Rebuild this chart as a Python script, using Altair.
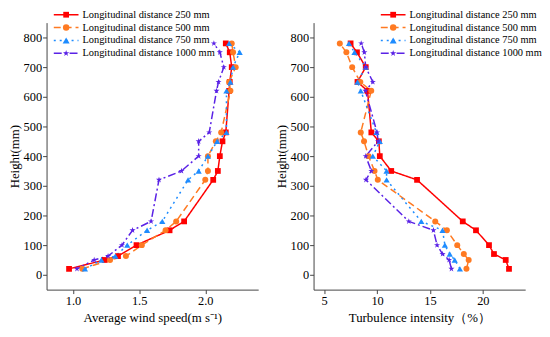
import altair as alt
import pandas as pd

names = ["Longitudinal distance 250 mm", "Longitudinal distance 500 mm",
         "Longitudinal distance 750 mm", "Longitudinal distance 1000 mm"]
colors = ["#FF0000", "#FF7A22", "#1E8CFF", "#5A22E6"]
dashes = [[1, 0], [7, 4], [2, 4], [8, 3, 2, 3]]
STAR = "M0,-1L0.2245,-0.309L0.951,-0.309L0.363,0.118L0.588,0.809L0,0.382L-0.588,0.809L-0.363,0.118L-0.951,-0.309L-0.2245,-0.309Z"
shapes = ["square", "circle", "triangle-up", STAR]
sizes = [34, 42, 50, 45]

heights_left = [20, 50, 63, 100, 150, 180, 320, 350, 400, 450, 480, 620, 650, 700, 750, 780]
heights_right = [20, 50, 70, 100, 150, 180, 320, 350, 400, 450, 480, 620, 650, 700, 750, 780]

speed_250 = [0.97, 1.24, 1.34, 1.48, 1.73, 1.84, 2.06, 2.095, 2.11, 2.13, 2.155, 2.18, 2.185, 2.20, 2.185, 2.155]
speed_500 = [1.07, 1.28, 1.40, 1.52, 1.70, 1.78, 2.00, 2.02, 2.02, 2.08, 2.12, 2.19, 2.18, 2.23, 2.21, 2.20]
speed_750 = [1.09, 1.215, 1.32, 1.41, 1.56, 1.675, 1.87, 1.95, 2.02, 2.09, 2.16, 2.16, 2.19, 2.21, 2.26, 2.18]
speed_1000 = [1.03, 1.16, 1.265, 1.37, 1.45, 1.59, 1.65, 1.82, 1.95, 1.95, 2.03, 2.085, 2.10, 2.14, 2.11, 2.065]

ti_250 = [22.47, 22.16, 21.05, 20.58, 19.35, 18.1, 13.78, 11.34, 10.26, 10.17, 9.46, 9.1, 8.15, 8.93, 8.1, 7.5]
ti_500 = [18.45, 18.66, 18.2, 17.58, 16.6, 15.5, 10.07, 9.76, 9.2, 8.77, 8.46, 9.45, 8.42, 7.65, 7.1, 6.48]
ti_750 = [17.83, 17.34, 16.87, 16.41, 16.19, 14.18, 10.9, 10.9, 9.6, 10.26, 9.94, 8.46, 8.15, 8.93, 7.87, 7.35]
ti_1000 = [17.03, 16.81, 16.19, 15.67, 15.33, 13.0, 8.95, 9.46, 8.93, 10.1, 10.0, 8.9, 9.6, 8.93, 8.8, 8.5]

FONT = "Liberation Serif"


def make_df(heights, series_values):
    rows = []
    for name, vals in zip(names, series_values):
        for i, (h, v) in enumerate(zip(heights, vals)):
            rows.append({"series": name, "idx": i, "h": h, "v": v})
    return pd.DataFrame(rows)


def panel(df, xdomain, xticks, xfmt, xtitle, lx0, w):
    base = alt.Chart(df)
    x = alt.X("v:Q", scale=alt.Scale(domain=xdomain, nice=False, zero=False),
              axis=alt.Axis(values=xticks, format=xfmt, title=xtitle, labelFont=FONT, titleFont=FONT,
                            titlePadding=5))
    y = alt.Y("h:Q", scale=alt.Scale(domain=[-50, 850], nice=False, zero=False),
              axis=alt.Axis(values=list(range(0, 801, 100)), title="Height(mm)", labelFont=FONT, titleFont=FONT,
                            titlePadding=2))
    color = alt.Color("series:N", scale=alt.Scale(domain=names, range=colors), legend=None)
    line = base.mark_line(strokeWidth=1.5).encode(
        x=x, y=y, color=color,
        strokeDash=alt.StrokeDash("series:N", scale=alt.Scale(domain=names, range=dashes), legend=None),
        order="idx:Q")
    pts = base.mark_point(filled=True, opacity=1).encode(
        x=x, y=y, color=color,
        shape=alt.Shape("series:N", scale=alt.Scale(domain=names, range=shapes), legend=None),
        size=alt.Size("series:O", scale=alt.Scale(domain=names, range=sizes), legend=None))
    layers = [line, pts]
    ly0 = -8
    for i, name in enumerate(names):
        yy = ly0 + i * 13
        one = pd.DataFrame({"n": [name]})
        layers.append(alt.Chart(one).mark_rule(strokeWidth=1.5, strokeDash=dashes[i], color=colors[i]).encode(
            x=alt.value(lx0), x2=alt.value(lx0 + 25), y=alt.value(yy)))
        layers.append(alt.Chart(one).mark_point(filled=True, opacity=1, shape=shapes[i], color=colors[i],
                                                size=sizes[i]).encode(
            x=alt.value(lx0 + 12.5), y=alt.value(yy)))
        layers.append(alt.Chart(one).mark_text(align="left", baseline="middle", font=FONT, fontSize=10.5,
                                               color="black").encode(
            x=alt.value(lx0 + 29), y=alt.value(yy), text="n:N"))
    return alt.layer(*layers).properties(width=w, height=270)


left = panel(make_df(heights_left, [speed_250, speed_500, speed_750, speed_1000]),
             [0.8, 2.4], [1.0, 1.5, 2.0], ".1f", "Average wind speed(m s\u207b\u00b9)", 7.3, 214)
right = panel(make_df(heights_right, [ti_250, ti_500, ti_750, ti_1000]),
              [4, 24], [5, 10, 15, 20], "d", "Turbulence intensity\uff08%\uff09", 68, 214)

chart = alt.hconcat(left, right, spacing=17, padding=0).configure_view(stroke=None).configure_axis(
    grid=False, domainColor="#444", tickColor="#444", tickSize=4,
    labelFontSize=12.5, titleFontSize=13,
    labelColor="black", titleColor="black", titleFontWeight="normal",
    labelPadding=1
)

chart.save("out.html", embed_options={"renderer": "svg", "actions": False})
